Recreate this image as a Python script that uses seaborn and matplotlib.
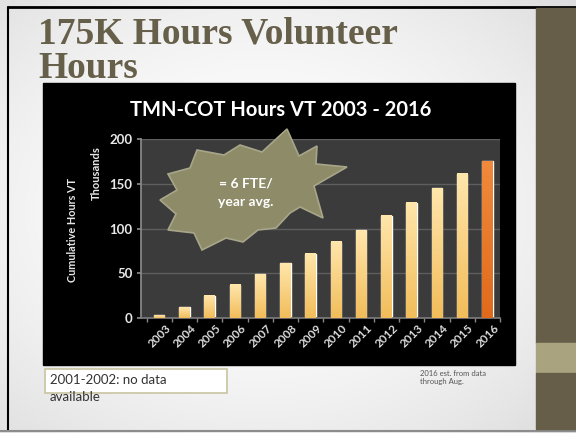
import numpy as np
import pandas as pd
import matplotlib.pyplot as plt
import seaborn as sns
from matplotlib.patches import Rectangle, Polygon
from matplotlib.colors import to_rgb

# ── data ──
years = ["2003", "2004", "2005", "2006", "2007", "2008", "2009",
         "2010", "2011", "2012", "2013", "2014", "2015", "2016"]
hours_k = [3, 12, 25, 37, 49, 61, 72, 85, 98, 114, 129, 145, 161, 175]
kind = ["actual"] * 13 + ["estimate"]
y_ticks = [0, 50, 100, 150, 200]

slide_title = ["175K Hours Volunteer", "Hours"]
chart_title = "TMN-COT Hours VT 2003 - 2016"
star_text = "= 6 FTE/\nyear avg."
note_left = "2001-2002: no data\navailable"
note_right = "2016 est. from data\nthrough Aug."

W, H = 576, 433
sns.set_theme(style="dark")
plt.rcParams["font.family"] = ["Lato", "DejaVu Sans"]

fig = plt.figure(figsize=(W / 100, H / 100), dpi=100)

# ── slide background (pixel coords) ──
bg = fig.add_axes([0, 0, 1, 1], zorder=0)
yy, xx = np.mgrid[0:H, 0:W]
r = np.hypot((xx - 260) / W, (yy - 210) / H)
shade = 1 - 0.14 * np.clip(r / 0.75, 0, 1) ** 1.8
bg.imshow(np.dstack([shade] * 3), extent=[0, W, H, 0], aspect="auto", zorder=0)
bg.set_xlim(0, W)
bg.set_ylim(H, 0)
bg.axis("off")

bg.plot([8, W], [6.5, 6.5], color="black", lw=2, zorder=2)
bg.plot([8, 8], [6.5, 430], color="black", lw=1.5, zorder=2)
bg.plot([0, W], [430.5, 430.5], color="#8c8c8c", lw=1.5, zorder=2)

bg.add_patch(Rectangle((536, 8), 40, 335, color="#665e48", zorder=2))
bg.add_patch(Rectangle((536, 343), 40, 30, color="#a9a47f", zorder=2))
bg.add_patch(Rectangle((536, 373), 40, 56, color="#665e48", zorder=2))

for line, base in zip(slide_title, [43, 78]):
    bg.text(38, base, line, ha="left", va="baseline", family="Liberation Serif",
            fontweight="bold", fontsize=27, color="#665f4a", zorder=3)

# black chart frame
bg.add_patch(Rectangle((43, 83), 472, 282, color="black", zorder=2))
bg.text(281, 110, chart_title, ha="center", va="center", color="white",
        fontsize=14.5, fontweight="bold", zorder=3)
bg.text(72, 230, "Cumulative Hours VT", ha="center", va="center", rotation=90,
        color="#e6e6e6", fontsize=7.8, fontweight="bold", zorder=3)

# notes under the chart
bg.add_patch(Rectangle((45, 369), 182, 24, fc="white", ec="#c9c4a2", lw=1.2, zorder=2))
bg.text(50, 373.5, note_left, ha="left", va="top", fontsize=9.5, color="#333333",
        linespacing=1.55, zorder=3)
bg.text(420, 370, note_right, ha="left", va="top", fontsize=5.5, color="#555555",
        linespacing=1.2, zorder=3)

# ── bar chart ──
ax = fig.add_axes([141 / W, 1 - 318 / H, 359 / W, 179 / H], zorder=1)
df = pd.DataFrame({"year": years, "hours": hours_k, "kind": kind})
sns.barplot(data=df, x="year", y="hours", hue="kind",
            palette={"actual": "#f9cf7a", "estimate": "#e8782a"},
            width=0.42, dodge=False, legend=False, ax=ax)

# vertical gradient fill on each bar
grad_cols = {"actual": ("#ffe6ab", "#f2bd5a"), "estimate": ("#f08a3c", "#e06a1c")}
for p in list(ax.patches):
    h = p.get_height()
    if h <= 0:
        continue
    key = "estimate" if p.get_facecolor()[1] < 0.6 else "actual"
    top, bot = [np.array(to_rgb(c)) for c in grad_cols[key]]
    t = np.linspace(0, 1, 64)[:, None]
    grad = (bot * (1 - t) + top * t)[:, None, :]
    ax.imshow(grad, extent=[p.get_x(), p.get_x() + p.get_width(), 0, h],
              origin="lower", aspect="auto", zorder=3)

ax.set_xlim(-0.72, 13.5)
ax.set_ylim(0, 200)
ax.set_facecolor("#3b3b3b")
ax.yaxis.grid(True, color="#5e5e5e", lw=1)
ax.xaxis.grid(False)
ax.set_axisbelow(True)
for s in ax.spines.values():
    s.set_visible(False)
ax.spines["left"].set_visible(True)
ax.spines["left"].set_color("#8a8a8a")
ax.spines["bottom"].set_visible(True)
ax.spines["bottom"].set_color("#7a7a7a")

ax.set_yticks(y_ticks)
ax.set_yticklabels(y_ticks, fontweight="bold", fontsize=9.5, color="#e8e8e8")
ax.set_xticks(range(len(years)))
ax.set_xticklabels(years, rotation=45, ha="center",
                   fontsize=8.5, fontweight="bold", color="#dcdcdc")
ax.set_xticks(np.arange(-0.5, len(years), 1), minor=True)
ax.tick_params(axis="x", which="major", length=0, pad=3)
ax.tick_params(axis="x", which="minor", length=3, color="#888888", bottom=True)
ax.tick_params(axis="y", length=3, color="#888888", left=True, pad=3)
ax.set_xlabel("")
ax.set_ylabel("Thousands", color="#e8e8e8", fontsize=8, fontweight="bold")
ax.yaxis.set_label_coords((102 - 141) / 359, (318 - 173) / 179)

# ── explosion callout ──
ov = fig.add_axes([0, 0, 1, 1], zorder=2)
ov.set_xlim(0, W)
ov.set_ylim(H, 0)
ov.axis("off")
ov.patch.set_alpha(0)
star = [(287, 129), (299, 156), (317, 146), (316, 164), (347, 167), (314, 186),
        (323, 218), (300, 207), (290, 213), (276, 228), (258, 230), (243, 242),
        (226, 238), (202, 250), (194, 233), (168, 230), (176, 214), (160, 200),
        (177, 190), (168, 174), (190, 168), (197, 150), (224, 155), (240, 145),
        (262, 152)]
ov.add_patch(Polygon(star, closed=True, fc="#8e8b68", ec="#a8a68a", lw=1.2))
ov.text(246, 193, star_text, ha="center", va="center", color="white",
        fontsize=10, fontweight="bold", linespacing=1.6)

plt.savefig("out.png", dpi=100)
plt.close()
